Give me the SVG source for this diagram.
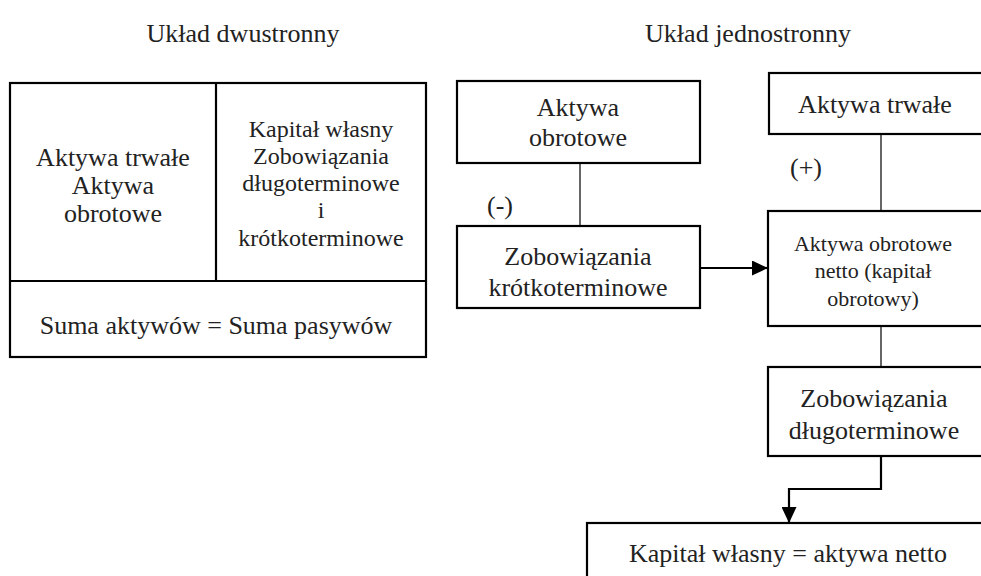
<svg xmlns="http://www.w3.org/2000/svg" width="981" height="576" viewBox="0 0 981 576">
<style>
text{font-family:"Liberation Serif","Times New Roman",serif;fill:#222;text-anchor:middle;font-size:26px}
.box{fill:#fff;stroke:#000;stroke-width:2.2}
.thin{stroke:#000;stroke-width:1.2;fill:none}
.thick{stroke:#000;stroke-width:2.2;fill:none}
.sm{font-size:22px}
.cell{font-size:24px}
</style>
<defs>
<marker id="ah" viewBox="0 0 16 15" refX="16" refY="7.5" markerWidth="16" markerHeight="15" orient="auto" markerUnits="userSpaceOnUse">
<path d="M0,0 L16,7.5 L0,15 z" fill="#000"/>
</marker>
</defs>
<rect width="981" height="576" fill="#fff"/>
<text x="243" y="42">Układ dwustronny</text>
<text x="748" y="42">Układ jednostronny</text>
<g id="bilans-dwustronny">
<rect class="box" x="10" y="83" width="416" height="274"/>
<line class="thick" x1="10" y1="281" x2="426" y2="281"/>
<line class="thick" x1="216" y1="83" x2="216" y2="281"/>
<text x="113" y="166">Aktywa trwałe</text>
<text x="113" y="194">Aktywa</text>
<text x="113" y="222">obrotowe</text>
<text class="cell" x="321" y="137">Kapitał własny</text>
<text class="cell" x="321" y="164">Zobowiązania</text>
<text class="cell" x="321" y="191">długoterminowe</text>
<text class="cell" x="321" y="218">i</text>
<text class="cell" x="321" y="246">krótkoterminowe</text>
<text x="216" y="334">Suma aktywów = Suma pasywów</text>
</g>
<g id="connectors">
<line class="thin" x1="580" y1="163" x2="580" y2="226"/>
<line class="thin" x1="881" y1="134" x2="881" y2="211"/>
<line class="thin" x1="881" y1="326" x2="881" y2="367"/>
<line class="thick" x1="700" y1="268" x2="768" y2="268" marker-end="url(#ah)"/>
<polyline class="thick" points="881,456 881,489 789,489 789,523" marker-end="url(#ah)"/>
</g>
<g id="aktywa-obrotowe">
<rect class="box" x="457" y="81" width="243" height="82"/>
<text x="578" y="116">Aktywa</text>
<text x="578" y="146">obrotowe</text>
</g>
<text x="500" y="214">(-)</text>
<g id="zobowiazania-krotkoterminowe">
<rect class="box" x="457" y="226" width="243" height="82"/>
<text x="578" y="265">Zobowiązania</text>
<text x="578" y="296">krótkoterminowe</text>
</g>
<g id="aktywa-trwale">
<rect class="box" x="769" y="73" width="230" height="61"/>
<text x="875" y="113">Aktywa trwałe</text>
</g>
<text x="806" y="176">(+)</text>
<g id="aktywa-obrotowe-netto">
<rect class="box" x="768" y="211" width="231" height="115"/>
<text class="sm" x="873" y="251">Aktywa obrotowe</text>
<text class="sm" x="873" y="278">netto (kapitał</text>
<text class="sm" x="873" y="306">obrotowy)</text>
</g>
<g id="zobowiazania-dlugoterminowe">
<rect class="box" x="768" y="367" width="231" height="89"/>
<text x="874" y="407">Zobowiązania</text>
<text x="874" y="439">długoterminowe</text>
</g>
<g id="kapital-wlasny">
<rect class="box" x="587" y="523" width="412" height="70"/>
<text x="788" y="562">Kapitał własny = aktywa netto</text>
</g>
</svg>
